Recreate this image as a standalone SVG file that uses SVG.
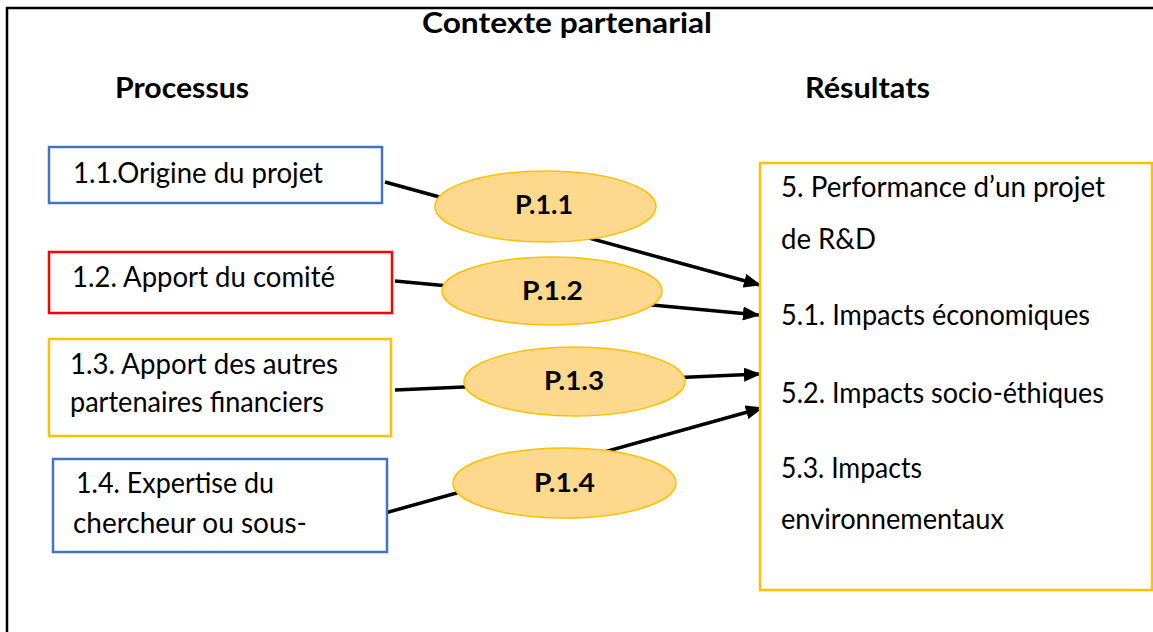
<svg xmlns="http://www.w3.org/2000/svg" width="1153" height="632" viewBox="0 0 1153 632">
<defs>
<style>
.t{font-family:Lato,"Open Sans","Liberation Sans",sans-serif;font-size:28px;fill:#000}
.h{font-family:Lato,"Open Sans","Liberation Sans",sans-serif;font-size:28px;font-weight:bold;fill:#000}
.e{font-family:Lato,"Open Sans","Liberation Sans",sans-serif;font-size:26px;font-weight:bold;fill:#000}
.box{fill:#fff;stroke-width:2.5}
.ell{fill:#FED98D;stroke:#FFC000;stroke-width:1.5}
.con{stroke:#000;stroke-width:3.5;fill:none}
</style>
<marker id="arr" markerWidth="5" markerHeight="4" refX="4.6" refY="2" orient="auto" markerUnits="strokeWidth">
<path d="M0,0 L5,2 L0,4 Z" fill="#000"/>
</marker>
</defs>
<rect width="1153" height="632" fill="#fff"/>
<g id="frame">
<path d="M7,632 L7,8 L1153,8" fill="none" stroke="#000" stroke-width="2.5"/>
</g>
<g id="titles">
<text class="h" x="422" y="33" textLength="290" lengthAdjust="spacingAndGlyphs">Contexte partenarial</text>
<text class="h" x="115" y="98" textLength="134" lengthAdjust="spacingAndGlyphs">Processus</text>
<text class="h" x="805" y="98" textLength="125" lengthAdjust="spacingAndGlyphs">Résultats</text>
</g>
<g id="connectors">
<line class="con" x1="385" y1="182" x2="760" y2="285" marker-end="url(#arr)"/>
<line class="con" x1="395" y1="281" x2="759" y2="315" marker-end="url(#arr)"/>
<line class="con" x1="395" y1="390" x2="760" y2="374" marker-end="url(#arr)"/>
<line class="con" x1="385" y1="513" x2="762" y2="408" marker-end="url(#arr)"/>
</g>
<g id="n11">
<rect class="box" x="49" y="147" width="333" height="56" stroke="#4472C4"/>
<text class="t" x="73" y="183" textLength="250" lengthAdjust="spacingAndGlyphs">1.1.Origine du projet</text>
</g>
<g id="n12">
<rect class="box" x="49" y="252" width="343" height="61" stroke="#FF0000"/>
<text class="t" x="72" y="287" textLength="263" lengthAdjust="spacingAndGlyphs">1.2. Apport du comité</text>
</g>
<g id="n13">
<rect class="box" x="49" y="339" width="342" height="97" stroke="#FFC000"/>
<text class="t" x="70" y="374" textLength="268" lengthAdjust="spacingAndGlyphs">1.3. Apport des autres</text>
<text class="t" x="70" y="412" textLength="254" lengthAdjust="spacingAndGlyphs">partenaires financiers</text>
</g>
<g id="n14">
<rect class="box" x="53" y="459" width="334" height="93" stroke="#4472C4"/>
<text class="t" x="76" y="493" textLength="198" lengthAdjust="spacingAndGlyphs">1.4. Expertise du</text>
<text class="t" x="73" y="533" textLength="234" lengthAdjust="spacingAndGlyphs">chercheur ou sous-</text>
</g>
<g id="p11">
<ellipse class="ell" cx="545.5" cy="206.5" rx="110.5" ry="35.5"/>
<text class="e" x="515" y="214" textLength="58" lengthAdjust="spacingAndGlyphs">P.1.1</text>
</g>
<g id="p12">
<ellipse class="ell" cx="552" cy="291" rx="110" ry="34"/>
<text class="e" x="522" y="300" textLength="61" lengthAdjust="spacingAndGlyphs">P.1.2</text>
</g>
<g id="p13">
<ellipse class="ell" cx="574.5" cy="381.5" rx="110.5" ry="34.5"/>
<text class="e" x="544" y="390" textLength="60" lengthAdjust="spacingAndGlyphs">P.1.3</text>
</g>
<g id="p14">
<ellipse class="ell" cx="564.5" cy="483" rx="111.5" ry="35"/>
<text class="e" x="534" y="492" textLength="61" lengthAdjust="spacingAndGlyphs">P.1.4</text>
</g>
<g id="results">
<rect class="box" x="760" y="163" width="392" height="427" stroke="#FFC000"/>
<text class="t" x="781" y="197" textLength="324" lengthAdjust="spacingAndGlyphs">5. Performance d’un projet</text>
<text class="t" x="781" y="249" textLength="95" lengthAdjust="spacingAndGlyphs">de R&amp;D</text>
<text class="t" x="781" y="325" textLength="309" lengthAdjust="spacingAndGlyphs">5.1. Impacts économiques</text>
<text class="t" x="781" y="403" textLength="323" lengthAdjust="spacingAndGlyphs">5.2. Impacts socio-éthiques</text>
<text class="t" x="781" y="478" textLength="141" lengthAdjust="spacingAndGlyphs">5.3. Impacts</text>
<text class="t" x="781" y="529" textLength="223" lengthAdjust="spacingAndGlyphs">environnementaux</text>
</g>
</svg>
